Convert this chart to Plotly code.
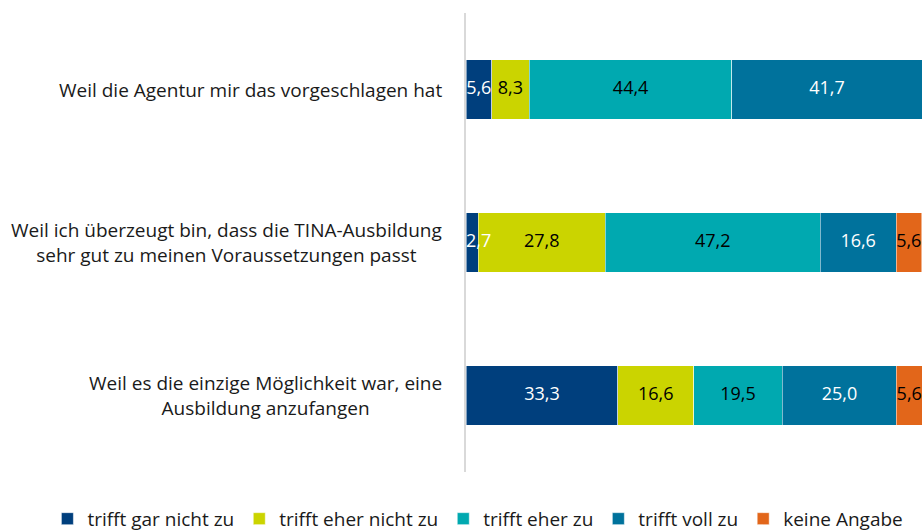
import plotly.graph_objects as go

categories = [
    "Weil die Agentur mir das vorgeschlagen hat",
    "Weil ich überzeugt bin, dass die TINA-Ausbildung<br>sehr gut zu meinen Voraussetzungen passt",
    "Weil es die einzige Möglichkeit war, eine<br>Ausbildung anzufangen",
]
series_names = ["trifft gar nicht zu", "trifft eher nicht zu", "trifft eher zu", "trifft voll zu", "keine Angabe"]
gar_nicht = [5.6, 2.7, 33.3]
eher_nicht = [8.3, 27.8, 16.6]
eher = [44.4, 47.2, 19.5]
voll = [41.7, 16.6, 25.0]
keine = [None, 5.6, 5.6]

series_values = [gar_nicht, eher_nicht, eher, voll, keine]
colors = ["#003f7d", "#cbd400", "#00a9b0", "#00729c", "#e2661a"]
text_colors = ["white", "black", "black", "white", "black"]

FONT = "Open Sans"
FS = 19
FS_LAB = 18
fig = go.Figure()
for name, vals, col in zip(series_names, series_values, colors):
    fig.add_trace(go.Bar(
        y=categories, x=vals, name=name, orientation="h",
        marker=dict(color=col, line=dict(color="white", width=0.5)),
        hoverinfo="skip",
    ))

# value labels drawn on top of all bars (so overflowing labels stay visible)
offsets = [0.0] * len(categories)
for vals, tc in zip(series_values, text_colors):
    xs, ys, ts, pos = [], [], [], []
    for i, v in enumerate(vals):
        if v is None:
            continue
        if offsets[i] == 0 and v < 4:
            # too narrow to centre at the axis: start the label at the bar's start
            xs.append(offsets[i])
            pos.append("middle right")
        else:
            xs.append(offsets[i] + v / 2)
            pos.append("middle center")
        ys.append(categories[i])
        ts.append(f"{v:.1f}".replace(".", ","))
        offsets[i] += v
    fig.add_trace(go.Scatter(
        x=xs, y=ys, text=ts, mode="text", textposition=pos,
        textfont=dict(color=tc, size=FS_LAB, family=FONT),
        showlegend=False, hoverinfo="skip", cliponaxis=False,
    ))

for cat in categories:
    fig.add_annotation(
        x=0, xref="paper", y=cat, yref="y", text=cat, showarrow=False,
        xanchor="right", yanchor="middle", align="center", xshift=-22,
        font=dict(size=FS, family=FONT, color="#1a1a1a"),
    )

fig.update_layout(
    width=923, height=531,
    barmode="stack", bargap=0.61,
    margin=dict(l=466, r=1, t=13, b=59, autoexpand=False),
    plot_bgcolor="white", paper_bgcolor="white",
    font=dict(family=FONT, size=FS, color="#1a1a1a"),
    showlegend=True,
    legend=dict(orientation="h", x=-0.918, xanchor="left", y=-0.102, yanchor="middle",
                font=dict(size=FS, family=FONT), traceorder="normal",
                itemwidth=30, bgcolor="rgba(0,0,0,0)"),
    xaxis=dict(range=[0, 100], showticklabels=False, showgrid=False, zeroline=False,
               showline=False, fixedrange=True),
    yaxis=dict(autorange="reversed", showticklabels=False, showgrid=False,
               showline=True, linecolor="#d9d9d9", linewidth=2, ticks=""),
)
fig.write_html("out.html", config={"displayModeBar": False},
               post_script="document.body.style.margin='0';document.body.style.overflow='hidden';")
